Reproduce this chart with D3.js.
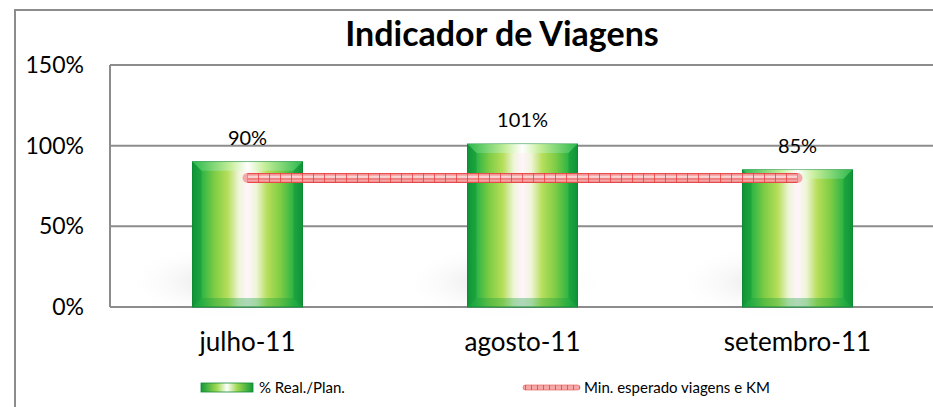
<!DOCTYPE html>
<html><head><meta charset="utf-8">
<script src="https://cdn.jsdelivr.net/npm/d3@7"></script>
<style>body{margin:0;background:#fff}svg{display:block;font-family:Lato,"Open Sans",sans-serif}</style>
</head><body>
<svg id="c" width="933" height="407"></svg>
<script>
const categories = ["julho-11", "agosto-11", "setembro-11"];
const realPlan = [0.90, 1.01, 0.85];
const minEsperado = [0.80, 0.80, 0.80];
const yTicks = [0, 0.5, 1.0, 1.5];
const title = "Indicador de Viagens";
const seriesNames = ["% Real./Plan.", "Min. esperado viagens e KM"];

const svg = d3.select("#c");
const W = 933, H = 407;
const m = {left:110};
const x = d3.scaleBand().domain(categories).range([m.left, 935]).paddingInner(0.6).paddingOuter(0.3);
const y = d3.scaleLinear().domain([0, 1.5]).range([307, 65]);

const defs = svg.append("defs");
const g1 = defs.append("linearGradient").attr("id","barG").attr("x1","0").attr("x2","1").attr("y1","0").attr("y2","0");
[[0,"#129a3c"],[0.08,"#2cb445"],[0.2,"#7fcc45"],[0.32,"#b5de5a"],[0.42,"#eef5d8"],[0.5,"#fff4fb"],[0.58,"#eef5d8"],[0.68,"#b5de5a"],[0.8,"#7fcc45"],[0.92,"#2cb445"],[1,"#129a3c"]]
 .forEach(([o,c])=>g1.append("stop").attr("offset",o).attr("stop-color",c));
const gTop = defs.append("linearGradient").attr("id","topG").attr("x1","0").attr("x2","1");
[[0,"#2fbb50"],[0.35,"#c8f0a0"],[0.5,"#ffffff"],[0.65,"#c8f0a0"],[1,"#2fbb50"]].forEach(([o,c])=>gTop.append("stop").attr("offset",o).attr("stop-color",c));
const sh = defs.append("radialGradient").attr("id","shG");
sh.append("stop").attr("offset",0).attr("stop-color","#c8c8c8").attr("stop-opacity",0.55);
sh.append("stop").attr("offset",1).attr("stop-color","#ffffff").attr("stop-opacity",0);
const pat = defs.append("pattern").attr("id","lineP").attr("patternUnits","userSpaceOnUse").attr("width",11).attr("height",10).attr("y", y(0.8)-5);
pat.append("rect").attr("width",11).attr("height",10).attr("fill","#f5a8a8");
pat.append("rect").attr("y",0).attr("width",11).attr("height",1.2).attr("fill","#e84848");
pat.append("rect").attr("y",8.8).attr("width",11).attr("height",1.2).attr("fill","#e84848");
pat.append("rect").attr("y",3.5).attr("width",11).attr("height",1).attr("fill","#ffffff");
pat.append("rect").attr("y",5.5).attr("width",11).attr("height",1).attr("fill","#ea5a5a");
pat.append("rect").attr("x",5).attr("width",0.8).attr("height",10).attr("fill","#e84040");
const lp = defs.append("pattern").attr("id","legP").attr("patternUnits","userSpaceOnUse").attr("width",6).attr("height",6);
lp.append("rect").attr("width",6).attr("height",6).attr("fill","#f5a8a8");
lp.append("rect").attr("x",3).attr("width",0.8).attr("height",6).attr("fill","#e84040");

// outer border
svg.append("rect").attr("x",15).attr("y",10).attr("width",940).attr("height",420).attr("fill","none").attr("stroke","#8c8c8c").attr("stroke-width",2);

// title
svg.append("text").attr("x",502).attr("y",46).attr("text-anchor","middle").attr("font-size",34).attr("font-weight","bold").attr("fill","#000").text(title);

// shadows
svg.append("g").selectAll("ellipse").data(categories).join("ellipse")
 .attr("cx",d=>x(d)+x.bandwidth()/2-20).attr("cy",282).attr("rx",105).attr("ry",38).attr("fill","url(#shG)");

// gridlines
svg.append("g").selectAll("line").data(yTicks).join("line")
 .attr("x1",m.left).attr("x2",W).attr("y1",d=>y(d)).attr("y2",d=>y(d)).attr("stroke","#8c8c8c").attr("stroke-width",2);
svg.append("line").attr("x1",m.left).attr("x2",m.left).attr("y1",y(1.5)).attr("y2",y(0)).attr("stroke","#8c8c8c").attr("stroke-width",2);

// y labels
svg.append("g").selectAll("text").data(yTicks).join("text")
 .attr("x",84).attr("y",d=>y(d)+8).attr("text-anchor","end").attr("font-size",23).attr("fill","#000").text(d3.format(".0%"));

// bars
const bars = svg.append("g").selectAll("g").data(categories).join("g");
bars.append("rect").attr("x",d=>x(d)).attr("y",(d,i)=>y(realPlan[i])).attr("width",x.bandwidth()).attr("height",(d,i)=>y(0)-y(realPlan[i])).attr("fill","url(#barG)").attr("stroke","#0f8a35").attr("stroke-width",1);
bars.append("path").attr("d",(d,i)=>{const x0=x(d),x1=x0+x.bandwidth(),t=y(realPlan[i]);return `M${x0},${t}L${x1},${t}L${x1-9},${t+9}L${x0+9},${t+9}Z`;}).attr("fill","url(#topG)").attr("opacity",0.9);
bars.append("path").attr("d",(d,i)=>{const x0=x(d),x1=x0+x.bandwidth(),b=y(0);return `M${x0},${b}L${x1},${b}L${x1-9},${b-9}L${x0+9},${b-9}Z`;}).attr("fill","#1aa040").attr("opacity",0.35);
bars.append("path").attr("d",(d,i)=>{const x0=x(d),t=y(realPlan[i]),b=y(0);return `M${x0},${t}L${x0+9},${t+9}L${x0+9},${b-9}L${x0},${b}Z`;}).attr("fill","#0a8a30").attr("opacity",0.35);
bars.append("path").attr("d",(d,i)=>{const x1=x(d)+x.bandwidth(),t=y(realPlan[i]),b=y(0);return `M${x1},${t}L${x1-9},${t+9}L${x1-9},${b-9}L${x1},${b}Z`;}).attr("fill","#0a8a30").attr("opacity",0.35);

// data labels
svg.append("g").selectAll("text").data(categories).join("text")
 .attr("x",d=>x(d)+x.bandwidth()/2).attr("y",(d,i)=>y(realPlan[i])-17).attr("text-anchor","middle").attr("font-size",20).attr("fill","#000").text((d,i)=>d3.format(".0%")(realPlan[i]));

// line
const line = d3.line().x((d,i)=>x(categories[i])+x.bandwidth()/2).y(d=>y(d));
svg.append("path").datum(minEsperado).attr("d",line).attr("fill","none").attr("stroke","#f5a8a8").attr("stroke-width",10).attr("stroke-linecap","round");
svg.append("path").datum(minEsperado).attr("d",line).attr("fill","none").attr("stroke","url(#lineP)").attr("stroke-width",10).attr("stroke-linecap","butt");

// x labels
svg.append("g").selectAll("text").data(categories).join("text")
 .attr("x",d=>x(d)+x.bandwidth()/2).attr("y",351).attr("text-anchor","middle").attr("font-size",26).attr("fill","#000").text(d=>d);

// legend
const lg = svg.append("g");
const lgG = defs.append("linearGradient").attr("id","legG").attr("x1","0").attr("x2","1");
[[0,"#129a3c"],[0.3,"#9fd84f"],[0.5,"#ffffff"],[0.7,"#9fd84f"],[1,"#129a3c"]].forEach(([o,c])=>lgG.append("stop").attr("offset",o).attr("stop-color",c));
lg.append("rect").attr("x",201).attr("y",383).attr("width",52).attr("height",9).attr("fill","url(#legG)").attr("stroke","#0f8a35").attr("stroke-width",0.8);
lg.append("text").attr("x",259).attr("y",393).attr("font-size",15).text(seriesNames[0]);
lg.append("rect").attr("x",523).attr("y",385).attr("width",57).attr("height",5).attr("rx",2.5).attr("fill","url(#legP)").attr("stroke","#e85050").attr("stroke-width",0.6);
lg.append("text").attr("x",584).attr("y",393).attr("font-size",15).text(seriesNames[1]);
</script>
</body></html>
